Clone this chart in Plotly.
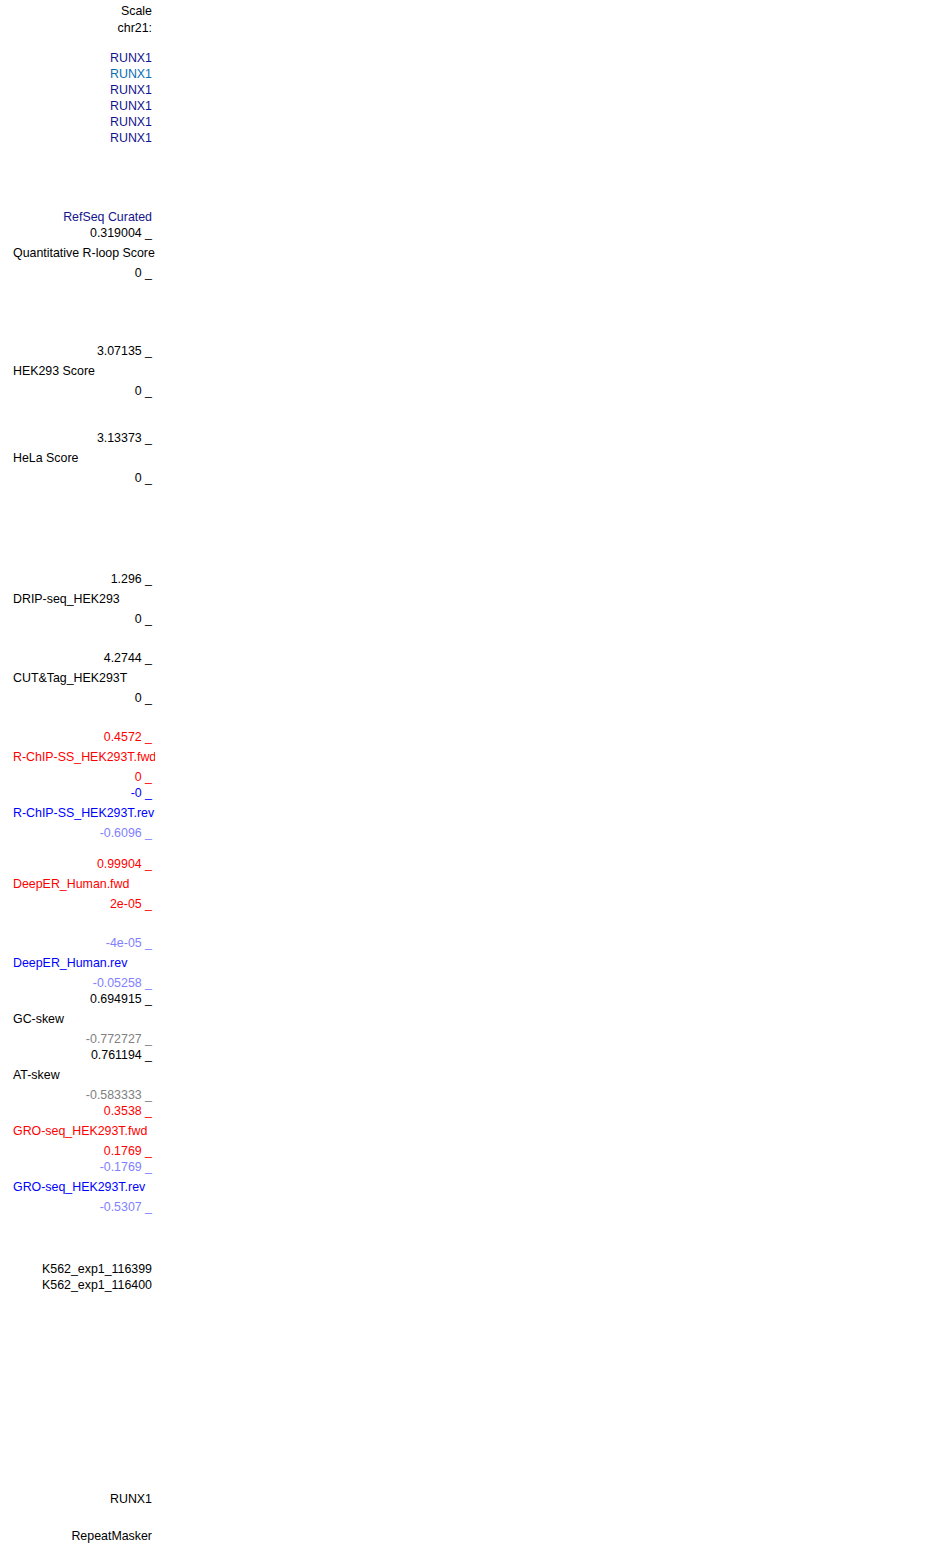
import plotly.graph_objects as go

W, H = 950, 1544
CLIP_X = 155  # label column is cut off here, like the browser's left panel

# header / gene labels
header_labels = ["Scale", "chr21:"]
gene_labels = ["RUNX1", "RUNX1", "RUNX1", "RUNX1", "RUNX1", "RUNX1"]
gene_colors = ["#14148c", "#0a6eb4", "#14148c", "#14148c", "#14148c", "#14148c"]
refseq_label = "RefSeq Curated"

# signal tracks: name, max label, min label
track_names = [
    "Quantitative R-loop Score", "HEK293 Score", "HeLa Score",
    "DRIP-seq_HEK293", "CUT&Tag_HEK293T",
    "R-ChIP-SS_HEK293T.fwd", "R-ChIP-SS_HEK293T.rev",
    "DeepER_Human.fwd", "DeepER_Human.rev",
    "GC-skew", "AT-skew",
    "GRO-seq_HEK293T.fwd", "GRO-seq_HEK293T.rev",
]
track_max = ["0.319004", "3.07135", "3.13373", "1.296", "4.2744",
             "0.4572", "-0", "0.99904", "-4e-05",
             "0.694915", "0.761194", "0.3538", "-0.1769"]
track_min = ["0", "0", "0", "0", "0",
             "0", "-0.6096", "2e-05", "-0.05258",
             "-0.772727", "-0.583333", "0.1769", "-0.5307"]

bottom_labels = ["K562_exp1_116399", "K562_exp1_116400", "RUNX1", "RepeatMasker"]

# --- layout / styling ---
BLACK, RED, BLUE, LBLUE, GRAY = "#000000", "#ff0000", "#0000ff", "#7f7fff", "#808080"
track_colors = [  # (name, max, min)
    (BLACK, BLACK, BLACK), (BLACK, BLACK, BLACK), (BLACK, BLACK, BLACK),
    (BLACK, BLACK, BLACK), (BLACK, BLACK, BLACK),
    (RED, RED, RED), (BLUE, BLUE, LBLUE),
    (RED, RED, RED), (BLUE, LBLUE, LBLUE),
    (BLACK, BLACK, GRAY), (BLACK, BLACK, GRAY),
    (RED, RED, RED), (BLUE, LBLUE, LBLUE),
]
track_top = [232, 350, 437, 578, 657, 736, 792, 863, 942, 998, 1054, 1110, 1166]
header_y = [10, 27]
gene_y = [57, 73, 89, 105, 121, 137]
refseq_y = 216
bottom_y = [1268, 1284, 1498, 1535]

RIGHT_X, LEFT_X = 152, 13
# text renders ~2px above its anchor; shift the y range to compensate
OFF_Y = -2

rx, ry, rt, rc = [], [], [], []   # right-aligned
lx, ly, lt, lc = [], [], [], []   # left-aligned

for lab, y in zip(header_labels, header_y):
    rx.append(RIGHT_X); ry.append(y); rt.append(lab); rc.append(BLACK)
for lab, y, c in zip(gene_labels, gene_y, gene_colors):
    rx.append(RIGHT_X); ry.append(y); rt.append(lab); rc.append(c)
rx.append(RIGHT_X); ry.append(refseq_y); rt.append(refseq_label); rc.append("#14148c")

for name, mx, mn, top, (cn, cmx, cmn) in zip(track_names, track_max, track_min,
                                            track_top, track_colors):
    rx.append(RIGHT_X); ry.append(top); rt.append(mx + " _"); rc.append(cmx)
    lx.append(LEFT_X); ly.append(top + 20); lt.append(name); lc.append(cn)
    rx.append(RIGHT_X); ry.append(top + 40); rt.append(mn + " _"); rc.append(cmn)

for lab, y in zip(bottom_labels, bottom_y):
    rx.append(RIGHT_X); ry.append(y); rt.append(lab); rc.append(BLACK)

font = dict(family="Liberation Sans, Arial, sans-serif", size=12.4)

fig = go.Figure()
fig.add_trace(go.Scatter(x=rx, y=ry, text=rt, mode="text",
                         textposition="middle left",
                         textfont=dict(color=rc, **font),
                         hoverinfo="skip", cliponaxis=True))
fig.add_trace(go.Scatter(x=lx, y=ly, text=lt, mode="text",
                         textposition="middle right",
                         textfont=dict(color=lc, **font),
                         hoverinfo="skip", cliponaxis=True))

fig.update_layout(
    width=W, height=H,
    margin=dict(l=0, r=0, t=0, b=0),
    paper_bgcolor="white", plot_bgcolor="white",
    showlegend=False,
    xaxis=dict(domain=[0, CLIP_X / W], range=[0, CLIP_X],
               visible=False, fixedrange=True),
    yaxis=dict(domain=[0, 1], range=[H + OFF_Y, OFF_Y],
               visible=False, fixedrange=True),
)

# drop the default page margin so the figure sits at the window's corner
fig.write_html("out.html", config={"displayModeBar": False},
               post_script="document.body.style.margin='0';")
